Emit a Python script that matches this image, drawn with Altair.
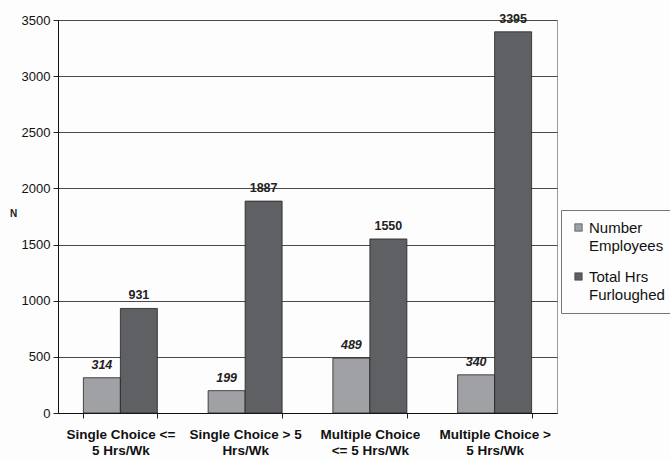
import altair as alt
import pandas as pd

categories = [
    "Single Choice <=\n5 Hrs/Wk",
    "Single Choice > 5\nHrs/Wk",
    "Multiple Choice\n<= 5 Hrs/Wk",
    "Multiple Choice >\n5 Hrs/Wk",
]
series = ["Number\nEmployees", "Total Hrs\nFurloughed"]
number_employees = [314, 199, 489, 340]
total_hrs = [931, 1887, 1550, 3395]
y_ticks = [0, 500, 1000, 1500, 2000, 2500, 3000, 3500]
colors = ["#a0a1a5", "#5f6064"]

rows = []
for c, a, b in zip(categories, number_employees, total_hrs):
    rows.append({"cat": c, "series": series[0], "value": a})
    rows.append({"cat": c, "series": series[1], "value": b})
df = pd.DataFrame(rows)

FONT = "Liberation Sans"

x = alt.X(
    "cat:N",
    sort=categories,
    title=None,
    scale=alt.Scale(paddingInner=0.407, paddingOuter=0.2035),
    axis=alt.Axis(
        labelAngle=0,
        labelExpr="split(datum.label, '\\n')",
        labelFont=FONT,
        labelFontSize=13.5,
        labelFontWeight="bold",
        labelColor="#111",
        labelPadding=9,
        labelLineHeight=16,
        labelLimit=200,
        tickBand="extent",
        tickSize=5,
        tickColor="#222",
        domainColor="#111",
        grid=False,
    ),
)
xo = alt.XOffset("series:N", sort=series)

base = alt.Chart(df)

bars = base.mark_bar(stroke="#222", strokeWidth=0.8).encode(
    x=x,
    xOffset=xo,
    y=alt.Y(
        "value:Q",
        scale=alt.Scale(domain=[0, 3500], nice=False),
        axis=alt.Axis(
            values=y_ticks,
            format="d",
            title="N",
            titleAngle=0,
            titleX=-45,
            titleY=193,
            titleAlign="center",
            titleBaseline="middle",
            titleFont=FONT,
            titleFontSize=10,
            titleFontWeight="bold",
            titleColor="#222",
            labelFont=FONT,
            labelFontSize=13,
            labelColor="#111",
            labelPadding=3,
            labelLineHeight=14,
            tickSize=5,
            tickColor="#222",
            domainColor="#111",
            grid=True,
            gridColor="#4a4a4a",
            gridWidth=1,
        ),
    ),
    color=alt.Color(
        "series:N",
        sort=series,
        scale=alt.Scale(domain=series, range=colors),
        legend=alt.Legend(
            title=None,
            orient="none",
            legendX=503,
            legendY=190,
            symbolType="square",
            symbolSize=55,
            symbolStrokeColor="#333",
            symbolStrokeWidth=0.6,
            labelExpr="split(datum.label, '\\n')",
            labelFont=FONT,
            labelFontSize=15,
            labelColor="#111",
            labelLimit=200,
            labelOffset=3,
            rowPadding=15,
            padding=10,
            strokeColor="#777",
            fillColor="#fdfdfd",
        ),
    ),
)

lab1 = base.transform_filter(alt.datum.series == series[0]).mark_text(
    dy=-6, baseline="bottom", font=FONT, fontSize=12.5, fontWeight="bold",
    fontStyle="italic", color="#222"
).encode(x=x, xOffset=xo, y="value:Q", text="value:Q")

lab2 = base.transform_filter(alt.datum.series == series[1]).mark_text(
    dy=-6, baseline="bottom", font=FONT, fontSize=12.5, fontWeight="bold",
    color="#222"
).encode(x=x, xOffset=xo, y="value:Q", text="value:Q")

chart = (
    alt.layer(bars, lab1, lab2)
    .properties(
        width=499,
        height=393,
        autosize=alt.AutoSizeParams(type="none"),
        padding={"left": 58, "top": 20, "right": 113, "bottom": 47},
        background="#fdfdfd",
    )
    .configure(
        view=alt.ViewConfig(stroke="#999", strokeWidth=1),
        style={"guide-label": {"lineHeight": 18}},
    )
)

chart.save("out.html", embed_options={"renderer": "svg", "actions": False})
